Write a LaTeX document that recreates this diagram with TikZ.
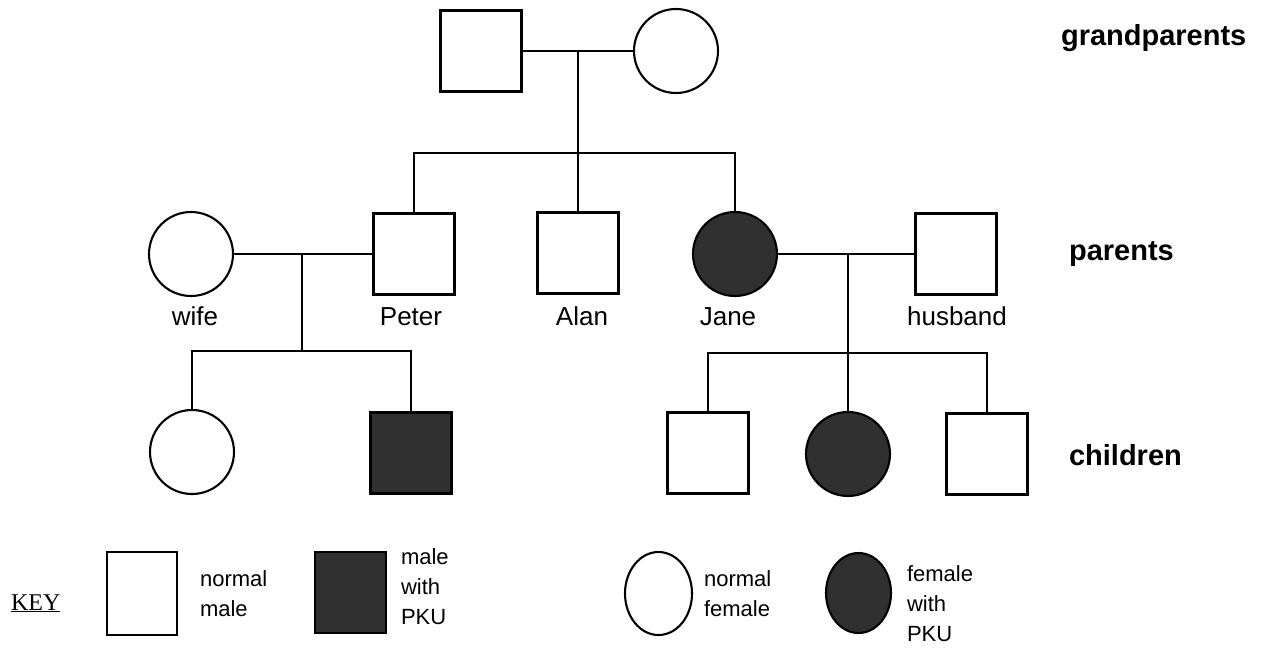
\documentclass[tikz,border=0pt]{standalone}
\usepackage{fontspec}
\usetikzlibrary{shapes.geometric}
\setmainfont{Liberation Sans}
\newfontfamily\keyserif{Liberation Serif}
\definecolor{pku}{RGB}{48,48,48}
\begin{document}
\begin{tikzpicture}[x=1pt,y=-1pt,
  line width=2.1pt,
  malebox/.style={draw, rectangle, minimum width=81pt, minimum height=81pt, inner sep=0pt},
  femalebox/.style={draw, circle, minimum size=84pt, inner sep=0pt},
  affected/.style={fill=pku},
  pname/.style={anchor=base, font=\fontsize{26}{30}\selectfont, inner sep=0pt},
  gen/.style={anchor=base west, font=\fontsize{29}{33}\selectfont\bfseries, inner sep=0pt},
  keytext/.style={anchor=west, align=left, font=\fontsize{22}{30}\selectfont, inner sep=0pt},
  link/.style={line width=2.1pt}
]
\useasboundingbox (0,0) rectangle (1261,648);

% grandparents
\node[malebox] (gf) at (481,51) {};
\node[femalebox] (gm) at (676,51) {};
% parents
\node[femalebox] (wife) at (191,254) {};
\node[malebox] (peter) at (414,254) {};
\node[malebox] (alan) at (578,253) {};
\node[femalebox, affected] (jane) at (735,254) {};
\node[malebox] (husband) at (956,254) {};
% children
\node[femalebox] (c1) at (192,452) {};
\node[malebox, affected] (c2) at (411,453) {};
\node[malebox] (c3) at (708,453) {};
\node[femalebox, affected] (c4) at (848,454) {};
\node[malebox] (c5) at (987,454) {};

% couple points
\coordinate (gp) at (578,51);
\coordinate (sib) at (578,153);
\coordinate (pm) at (302,254);
\coordinate (pk) at (302,351);
\coordinate (jm) at (848,254);
\coordinate (jk) at (848,353);

% connectors
\draw[link] (gf.east) -- (gm.west);
\draw[link] (gp) -- (alan.north);
\draw[link] (peter.north) |- (sib) -| (jane.north);
\draw[link] (wife.east) -- (peter.west);
\draw[link] (pm) -- (pk);
\draw[link] (c1.north) |- (pk) -| (c2.north);
\draw[link] (jane.east) -- (husband.west);
\draw[link] (jm) -- (c4.north);
\draw[link] (c3.north) |- (jk) -| (c5.north);

% names
\node[pname] (lwife) at (195,325) {wife};
\node[pname] (lpeter) at (411,325) {Peter};
\node[pname] (lalan) at (582,325) {Alan};
\node[pname] (ljane) at (728,325) {Jane};
\node[pname] (lhusband) at (957,325) {husband};

% generation labels
\node[gen] (lgp) at (1060,45) {grandparents};
\node[gen] (lpa) at (1068,260) {parents};
\node[gen] (lch) at (1068,465) {children};

% key
\node[anchor=base west, inner sep=0pt, font=\keyserif\fontsize{24}{28}\selectfont] (key) at (10,610) {\underline{KEY}};
\node[draw, rectangle, minimum width=70pt, minimum height=83pt, inner sep=0pt] (k1) at (142,593.5) {};
\node[keytext] (k1t) at (199,594) {normal\\male};
\node[draw, rectangle, fill=pku, minimum width=71pt, minimum height=81pt, inner sep=0pt] (k2) at (350.5,592.5) {};
\node[keytext] (k2t) at (400,587) {male\\with\\PKU};
\node[draw, ellipse, minimum width=67pt, minimum height=83pt, inner sep=0pt] (k3) at (658.5,593.5) {};
\node[keytext] (k3t) at (703,594) {normal\\female};
\node[draw, ellipse, fill=pku, minimum width=65pt, minimum height=80pt, inner sep=0pt] (k4) at (858.5,593) {};
\node[keytext] (k4t) at (906,604) {female\\with\\PKU};
\end{tikzpicture}
\end{document}
